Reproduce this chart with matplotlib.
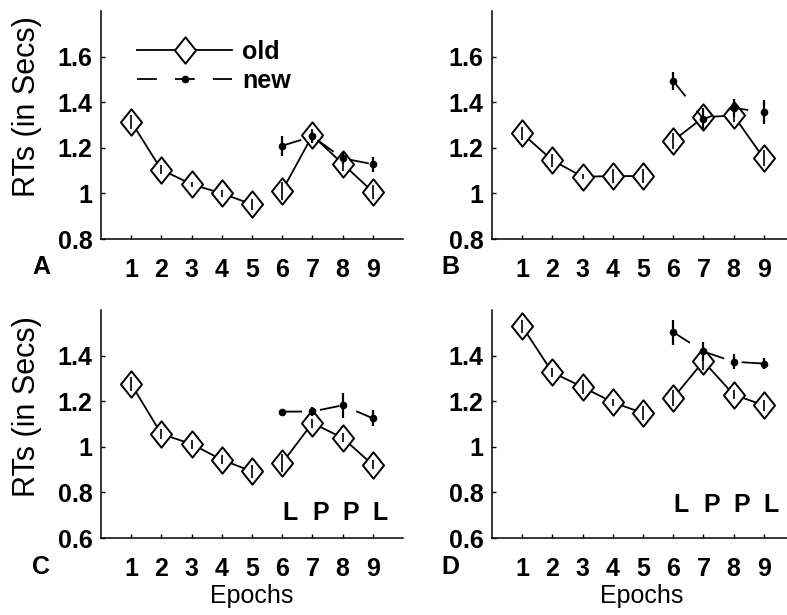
import numpy as np
import matplotlib
matplotlib.use('Agg')
import matplotlib.pyplot as plt
from matplotlib.path import Path
from matplotlib.lines import Line2D

plt.rcParams['font.family'] = ['Liberation Sans', 'DejaVu Sans']

# Data
epochs = [1, 2, 3, 4, 5, 6, 7, 8, 9]
new_epochs = [6, 7, 8, 9]
cue_labels = ['L', 'P', 'P', 'L']

old_a = [1.314, 1.104, 1.040, 1.000, 0.952, 1.012, 1.254, 1.130, 1.007]
old_a_err = [0.03, 0.02, 0.012, 0.015, 0.025, 0.04, 0.03, 0.03, 0.03]
new_a = [1.209, 1.250, 1.154, 1.128]
new_a_err = [0.044, 0.03, 0.025, 0.033]

old_b = [1.263, 1.145, 1.073, 1.076, 1.076, 1.231, 1.334, 1.342, 1.154]
old_b_err = [0.03, 0.03, 0.01, 0.03, 0.03, 0.035, 0.04, 0.03, 0.035]
new_b = [1.494, 1.326, 1.375, 1.356]
new_b_err = [0.039, 0.05, 0.04, 0.053]

old_c = [1.275, 1.056, 1.012, 0.943, 0.892, 0.929, 1.104, 1.039, 0.921]
old_c_err = [0.03, 0.02, 0.02, 0.02, 0.03, 0.04, 0.02, 0.02, 0.02]
new_c = [1.154, 1.155, 1.182, 1.125]
new_c_err = [0.012, 0.02, 0.055, 0.035]

old_d = [1.528, 1.326, 1.262, 1.195, 1.148, 1.214, 1.375, 1.229, 1.182]
old_d_err = [0.03, 0.02, 0.03, 0.015, 0.03, 0.035, 0.04, 0.02, 0.025]
new_d = [1.503, 1.418, 1.373, 1.365]
new_d_err = [0.055, 0.04, 0.033, 0.023]

yticks_top = [0.8, 1.0, 1.2, 1.4, 1.6]
yticklabels_top = ['0.8', '1', '1.2', '1.4', '1.6']
yticks_bottom = [0.6, 0.8, 1.0, 1.2, 1.4]
yticklabels_bottom = ['0.6', '0.8', '1', '1.2', '1.4']

W, H = 787, 615
fig = plt.figure(figsize=(W / 100, H / 100), dpi=100)

# tall diamond marker like the original
diamond = Path([(0, 1), (0.8, 0), (0, -1), (-0.8, 0), (0, 1)],
               [Path.MOVETO, Path.LINETO, Path.LINETO, Path.LINETO, Path.CLOSEPOLY])

LW = 1.3
DASH = (11, 10)
MS = 19


def px_axes(left, top, right, bottom):
    return fig.add_axes([left / W, 1 - bottom / H, (right - left) / W, (bottom - top) / H])


def draw_panel(ax, old, old_err, new, new_err, ylim, yticks, yticklabels):
    ax.plot(epochs[:5], old[:5], color='k', lw=LW, marker=diamond, ms=MS,
            mfc='white', mec='k', mew=1.4, zorder=2)
    ax.plot(epochs[5:], old[5:], color='k', lw=LW, marker=diamond, ms=MS,
            mfc='white', mec='k', mew=1.4, zorder=2)
    ax.errorbar(epochs, old, yerr=old_err, fmt='none', ecolor='k', elinewidth=1.2,
                capsize=0, zorder=3)
    ax.plot(new_epochs, new, color='k', lw=LW, dashes=DASH, zorder=4)
    ax.errorbar(new_epochs, new, yerr=new_err, fmt='o', color='k', ms=4.5,
                elinewidth=1.6, capsize=0, zorder=5)
    ax.set_xlim(0, 10)
    ax.set_ylim(*ylim)
    ax.set_xticks(epochs)
    ax.set_xticklabels([str(e) for e in epochs], fontsize=18, fontweight='bold')
    ax.set_yticks(yticks)
    ax.set_yticklabels(yticklabels, fontsize=18, fontweight='bold')
    ax.tick_params(axis='x', direction='in', length=3, width=1, pad=14)
    ax.tick_params(axis='y', direction='in', length=3, width=1, pad=6)
    for s in ['top', 'right']:
        ax.spines[s].set_visible(False)
    for s in ['left', 'bottom']:
        ax.spines[s].set_linewidth(1.1)


ax_a = px_axes(101, 11, 403, 239)
ax_b = px_axes(492, 11, 794, 239)
ax_c = px_axes(101, 310, 403, 538)
ax_d = px_axes(492, 310, 794, 538)

draw_panel(ax_a, old_a, old_a_err, new_a, new_a_err, (0.8, 1.8), yticks_top, yticklabels_top)
draw_panel(ax_b, old_b, old_b_err, new_b, new_b_err, (0.8, 1.8), yticks_top, yticklabels_top)
draw_panel(ax_c, old_c, old_c_err, new_c, new_c_err, (0.6, 1.6), yticks_bottom, yticklabels_bottom)
draw_panel(ax_d, old_d, old_d_err, new_d, new_d_err, (0.6, 1.6), yticks_bottom, yticklabels_bottom)

# L / P annotations
for ax, yv in [(ax_c, 0.71), (ax_d, 0.745)]:
    for x, lab in zip(new_epochs, cue_labels):
        ax.text(x, yv, lab, fontsize=18, fontweight='bold', ha='left', va='center')

# legend
h_old = Line2D([], [], color='k', lw=LW, marker=diamond, ms=MS, mfc='white', mec='k', mew=1.4)
h_new = Line2D([], [], color='k', lw=LW, dashes=DASH, marker='o', ms=4.5)
ax_a.legend([h_old, h_new], ['old', 'new'], loc='center left',
            bbox_to_anchor=((137 - 101) / 302, (239 - 66.5) / 228), frameon=False,
            borderpad=0, borderaxespad=0, handlelength=3.8, handletextpad=0.4,
            labelspacing=0.2, numpoints=1, prop={'size': 18, 'weight': 'bold'})

# axis labels and panel letters
for yc in [106.5, 407]:
    fig.text(27.5 / W, 1 - yc / H, 'RTs (in Secs)', rotation=90, ha='center', va='center', fontsize=22)
for xc in [252, 642]:
    fig.text(xc / W, 1 - 596 / H, 'Epochs', ha='center', va='center', fontsize=18)
for lab, xc, yc in [('A', 41, 267), ('B', 450, 267), ('C', 41, 567), ('D', 450, 567)]:
    fig.text(xc / W, 1 - yc / H, lab, ha='center', va='center', fontsize=18, fontweight='bold')

fig.savefig('out.png', dpi=100)
